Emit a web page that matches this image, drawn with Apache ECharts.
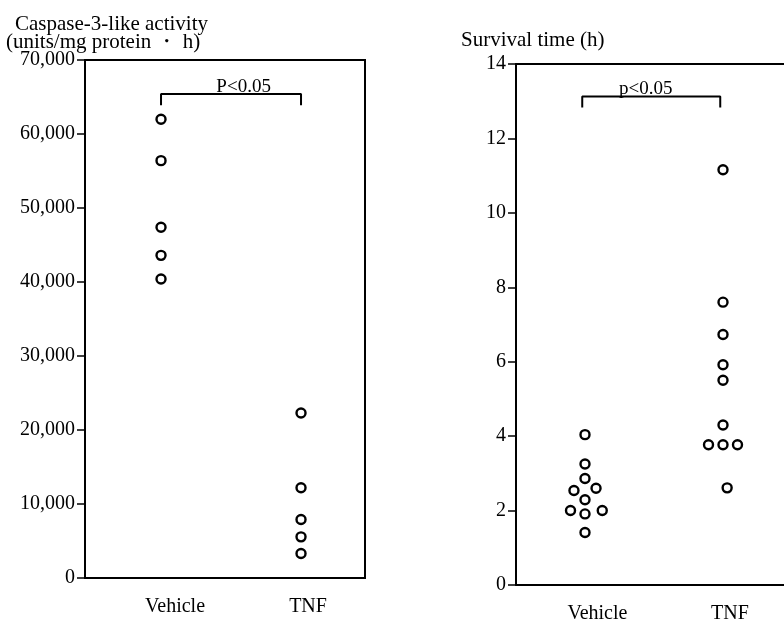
<!DOCTYPE html>
<html>
<head>
	<meta charset="utf-8">
	<title>Caspase-3 / Survival</title>
	<script src="https://cdn.jsdelivr.net/npm/echarts@6/dist/echarts.min.js"></script>
</head>
<body style="margin:0;background:#fff;">
	<div style="width:784px;height:625px;" id="chart1"></div>
	<script type="text/javascript">

    // groups: Vehicle = 1, TNF = 2 on both x axes
    var groups = ['Vehicle', 'TNF'];

    // left panel: caspase-3-like activity
    var caspaseVehicle = [62000, 56400, 47400, 43600, 40400];
    var caspaseTNF = [22300, 12200, 7900, 5560, 3320];
    var caspaseTicks = [0, 10000, 20000, 30000, 40000, 50000, 60000, 70000];

    // right panel: survival time, with the sideways spread of each dot
    var survivalVehicle = [4.04, 3.25, 2.86, 2.54, 2.60, 2.29, 2.0, 1.91, 2.0, 1.41];
    var survivalVehicleSpread = [0, 0, 0, -0.08, 0.08, 0, -0.105, 0, 0.125, 0];
    var survivalTNF = [11.16, 7.6, 6.73, 5.92, 5.5, 4.3, 3.77, 3.77, 3.77, 2.61];
    var survivalTNFSpread = [0, 0, 0, 0, 0, 0, -0.105, 0, 0.105, 0.03];
    var survivalTicks = [0, 2, 4, 6, 8, 10, 12, 14];

    // significance brackets (in data units)
    var bracketLeft = [[1, 63900], [1, 65400], [2, 65400], [2, 63900]];
    var bracketRight = [[0.98, 12.83], [0.98, 13.13], [1.98, 13.13], [1.98, 12.83]];

    var font = "'Liberation Serif', 'Times New Roman', serif";
    var ink = '#000';

    function pts(values, group, spread) {
        var out = [];
        for (var i = 0; i < values.length; i++) {
            out.push([group + (spread ? spread[i] : 0), values[i]]);
        }
        return out;
    }

    function yAxisFor(gridIndex, ticks, fmt) {
        return {
            type: 'value', gridIndex: gridIndex,
            min: ticks[0], max: ticks[ticks.length - 1],
            interval: ticks[1] - ticks[0],
            splitLine: {show: false},
            axisLine: {show: true, lineStyle: {color: ink, width: 2}},
            axisTick: {show: true, inside: false, length: 8, lineStyle: {color: ink, width: 1.5}},
            axisLabel: {color: ink, fontFamily: font, fontSize: 20, margin: 10, formatter: fmt}
        };
    }

    function xAxisFor(gridIndex, min, max, labelAt) {
        return {
            type: 'value', gridIndex: gridIndex, min: min, max: max,
            splitLine: {show: false},
            axisLine: {show: true, onZero: false, lineStyle: {color: ink, width: 2}},
            axisTick: {show: false},
            axisLabel: {
                color: ink, fontFamily: font, fontSize: 20, margin: 19,
                customValues: labelAt,
                formatter: function (v) { return v < 1.5 ? groups[0] : groups[1]; }
            }
        };
    }

    // top frame line only (right panel is cut off at the page edge)
    function topLine(gridIndex, min, max) {
        return {
            type: 'value', gridIndex: gridIndex, position: 'top', min: min, max: max,
            splitLine: {show: false}, axisTick: {show: false}, axisLabel: {show: false},
            axisLine: {show: true, onZero: false, lineStyle: {color: ink, width: 2}}
        };
    }

    var circle = {color: '#fff', borderColor: ink, borderWidth: 2.4, opacity: 1};

    function dots(xi, yi, data) {
        return {
            type: 'scatter', xAxisIndex: xi, yAxisIndex: yi, data: data,
            symbol: 'circle', symbolSize: 9, itemStyle: circle, silent: true
        };
    }

    function bracket(xi, yi, data) {
        return {
            type: 'line', xAxisIndex: xi, yAxisIndex: yi, data: data,
            symbol: 'none', silent: true,
            lineStyle: {color: ink, width: 2}
        };
    }

    function pLabel(xi, yi, at, text) {
        return {
            type: 'scatter', xAxisIndex: xi, yAxisIndex: yi, data: [at],
            symbolSize: 0, silent: true, itemStyle: {opacity: 1},
            label: {show: true, position: 'top', distance: -2, formatter: text,
                color: ink, fontFamily: font, fontSize: 19}
        };
    }

    var titleText = {color: ink, fontFamily: font, fontSize: 21, fontWeight: 'normal'};

    var dom = document.getElementById('chart1');
    var myChart = echarts.init(dom);
    var option = {
        animation: false,
        backgroundColor: '#fff',
        title: [
            {text: 'Caspase-3-like activity', left: 10, top: 9, textStyle: titleText},
            {text: '(units/mg protein \u30fb h)', left: 1, top: 27, textStyle: titleText},
            {text: 'Survival time (h)', left: 456, top: 25, textStyle: titleText}
        ],
        grid: [
            {left: 85, top: 60, right: 419, bottom: 47,
                show: true, borderColor: ink, borderWidth: 2, backgroundColor: 'transparent'},
            {left: 516, top: 64, right: 0, bottom: 40}
        ],
        xAxis: [
            xAxisFor(0, 0.457, 2.457, [1.1, 2.05]),
            xAxisFor(1, 0.5, 2.442, [1.09, 2.05]),
            topLine(1, 0.5, 2.442)
        ],
        yAxis: [
            yAxisFor(0, caspaseTicks, function (v) { return v.toLocaleString('en-US'); }),
            yAxisFor(1, survivalTicks, null)
        ],
        series: [
            dots(0, 0, pts(caspaseVehicle, 1)),
            dots(0, 0, pts(caspaseTNF, 2)),
            bracket(0, 0, bracketLeft),
            pLabel(0, 0, [1.59, 65400], 'P<0.05'),
            dots(1, 1, pts(survivalVehicle, 1, survivalVehicleSpread)),
            dots(1, 1, pts(survivalTNF, 2, survivalTNFSpread)),
            bracket(1, 1, bracketRight),
            pLabel(1, 1, [1.44, 13.13], 'p<0.05')
        ]
    };
    myChart.setOption(option, true);

	</script>
</body>
</html>
